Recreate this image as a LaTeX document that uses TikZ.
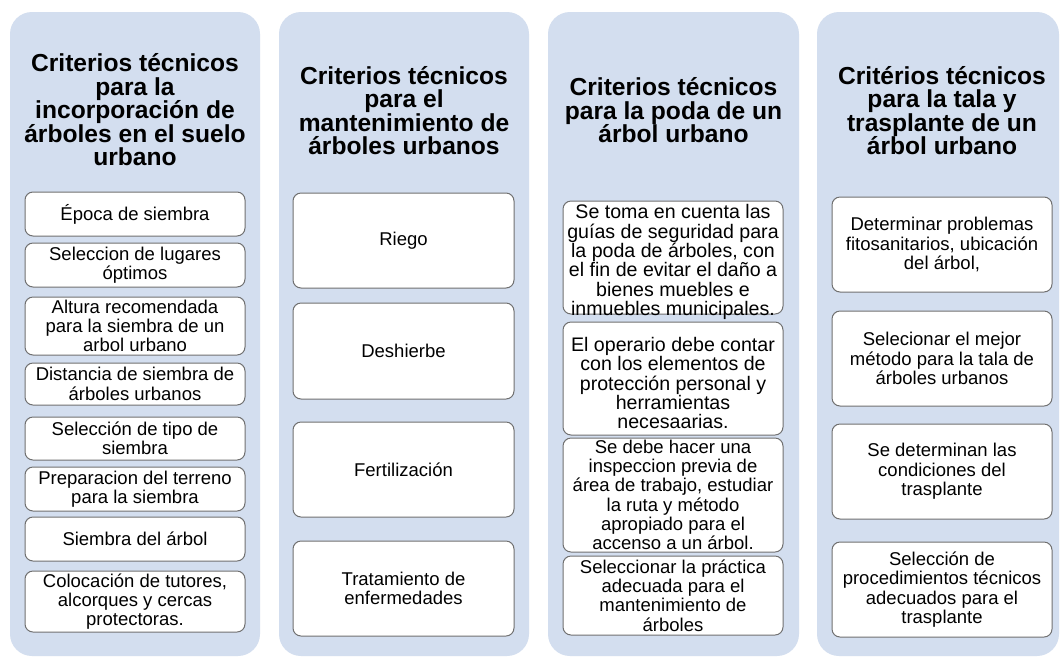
\documentclass[tikz,border=0pt]{standalone}
\usepackage{fontspec}
\setmainfont{Liberation Sans}
\usetikzlibrary{fit}
\definecolor{panelblue}{HTML}{D3DEEF}
\definecolor{cardgray}{HTML}{707070}
\newcommand\mkcard[6]{%
  \node[card, fit={(#2,#3) (#4,#5)}] (#1) {};
  \node[cardtext] (#1-t) at (#1) {#6};}
\newcommand\mkcardL[6]{%
  \node[card, fit={(#2,#3) (#4,#5)}] (#1) {};
  \node[cardtextL, yshift=-4.5pt] (#1-t) at (#1) {#6};}
\tikzset{
  panel/.style={fill=panelblue, rounded corners=22pt},
  card/.style={draw=cardgray, fill=white, rounded corners=8pt, line width=1pt, inner sep=0pt},
  cardtext/.style={align=center, font=\fontsize{18.5}{19.3}\selectfont, inner sep=0pt},
  cardtextL/.style={align=center, font=\fontsize{19.6}{19.3}\selectfont, inner sep=0pt},
  head/.style={align=center, font=\bfseries\fontsize{24.6}{23.5}\selectfont, inner sep=0pt}
}
\begin{document}
\begin{tikzpicture}[x=1pt,y=-1pt]
\useasboundingbox (0,0) rectangle (1060,657);
\fill[white] (0,0) rectangle (1060,657);
% panels
\path[panel] (10,12) rectangle (260,656);
\path[panel] (279,12) rectangle (529,656);
\path[panel] (548,12) rectangle (799,656);
\path[panel] (817,12) rectangle (1059,656);
% headings
\node[head] (h1) at (135,110) {Criterios técnicos\\para la\\incorporación de\\árboles en el suelo\\urbano};
\node[head] (h2) at (404,110.5) {Criterios técnicos\\para el\\mantenimiento de\\árboles urbanos};
\node[head] (h3) at (673.5,110.5) {Criterios técnicos\\para la poda de un\\árbol urbano};
\node[head] (h4) at (942,110.5) {Critérios técnicos\\para la tala y\\trasplante de un\\árbol urbano};
% column 1
\mkcard{a1}{25}{192}{245}{236}{Época de siembra}
\mkcard{a2}{25}{243}{245}{287}{Seleccion de lugares\\óptimos}
\mkcard{a3}{25}{297}{245}{355}{Altura recomendada\\para la siembra de un\\arbol urbano}
\mkcard{a4}{25}{363}{245}{405}{Distancia de siembra de\\árboles urbanos}
\mkcard{a5}{25}{417}{245}{460}{Selección de tipo de\\siembra}
\mkcard{a6}{25}{467}{245}{511}{Preparacion del terreno\\para la siembra}
\mkcard{a7}{25}{517}{245}{561}{Siembra del árbol}
\mkcard{a8}{25}{571}{245}{632}{Colocación de tutores,\\alcorques y cercas\\protectoras.}
% column 2
\mkcard{b1}{293}{193}{514}{288}{Riego}
\mkcard{b2}{293}{303}{514}{399}{Deshierbe}
\mkcard{b3}{293}{422}{514}{517}{Fertilización}
\mkcard{b4}{293}{541}{514}{636}{Tratamiento de\\enfermedades}
% column 3
\mkcardL{c1}{563}{201}{783}{314}{Se toma en cuenta las\\guías de seguridad para\\la poda de árboles, con\\el fin de evitar el daño a\\bienes muebles e\\inmuebles municipales.}
\mkcardL{c2}{563}{322}{783}{435}{El operario debe contar\\con los elementos de\\protección personal y\\herramientas\\necesaarias.}
\mkcard{c3}{563}{438}{783}{552}{Se debe hacer una\\inspeccion previa de\\área de trabajo, estudiar\\la ruta y método\\apropiado para el\\accenso a un árbol.}
\mkcard{c4}{563}{556}{783}{635}{Seleccionar la práctica\\adecuada para el\\mantenimiento de\\árboles}
% column 4
\mkcard{d1}{832}{197}{1052}{292}{Determinar problemas\\fitosanitarios, ubicación\\del árbol,}
\mkcard{d2}{832}{311}{1052}{406}{Selecionar el mejor\\método para la tala de\\árboles urbanos}
\mkcard{d3}{832}{424}{1052}{519}{Se determinan las\\condiciones del\\trasplante}
\mkcard{d4}{832}{542}{1052}{637}{Selección de\\procedimientos técnicos\\adecuados para el\\trasplante}
\end{tikzpicture}
\end{document}
